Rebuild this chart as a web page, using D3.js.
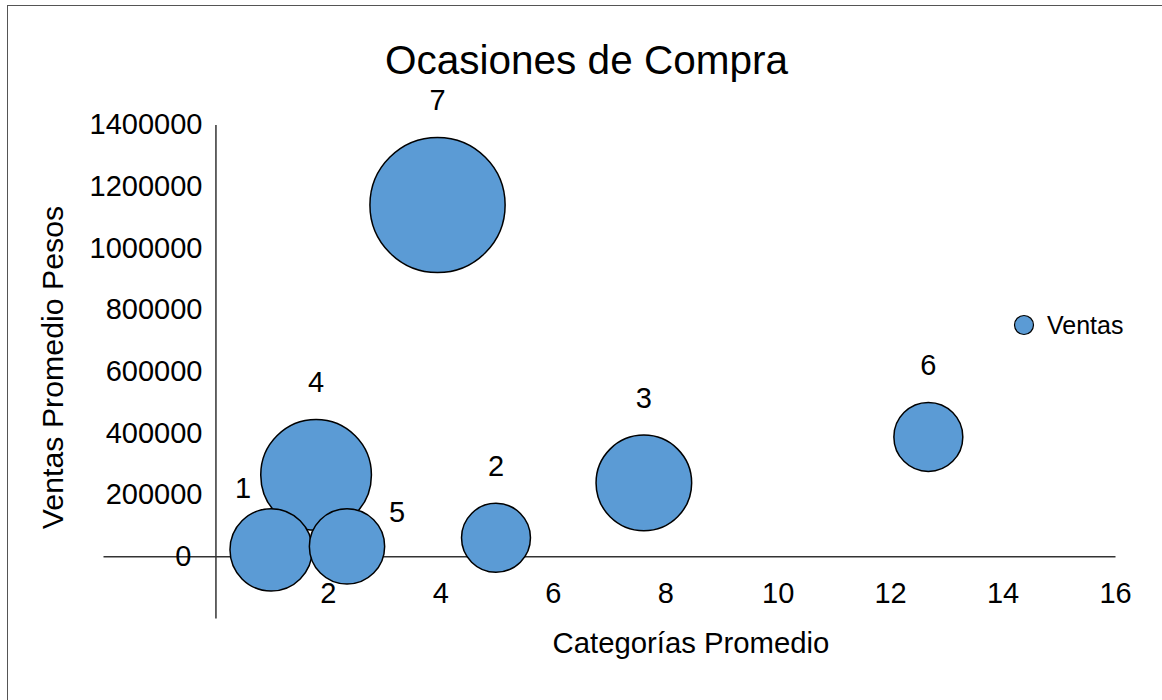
<!DOCTYPE html>
<html>
<head>
<meta charset="utf-8">
<script src="https://cdn.jsdelivr.net/npm/d3@7"></script>
<style>
  html, body { margin: 0; padding: 0; background: #fff; }
  svg { display: block; }
  text { font-family: "Liberation Sans", Arial, Helvetica, sans-serif; fill: #000; }
</style>
</head>
<body>
<svg id="chart" width="1162" height="700"></svg>
<script>
// Ocasiones de compra: categorías promedio vs. ventas promedio (pesos)
const occasions   = ["1", "4", "5", "2", "3", "6", "7"];
const avgCategory = [0.99, 1.79, 2.34, 4.99, 7.62, 12.68, 3.95];
const avgSales    = [21000, 264000, 32000, 60000, 238000, 387000, 1139000];
const bubbleSize  = [37, 67, 31, 26, 50, 26, 100];

const xTicks = [2, 4, 6, 8, 10, 12, 14, 16];
const yTicks = [0, 200000, 400000, 600000, 800000, 1000000, 1200000, 1400000];

const seriesName = "Ventas";
const chartTitle = "Ocasiones de Compra";
const xTitle = "Categorías Promedio";
const yTitle = "Ventas Promedio Pesos";

const data = occasions.map((name, i) => ({
  name, x: avgCategory[i], y: avgSales[i], size: bubbleSize[i]
}));

// hand-placed labels for the crowded cluster near the origin
const labelNudge = { "1": [-28, 17], "5": [50, 41] };

const svg = d3.select("#chart");
const blue = "#5b9bd5";

// outer frame
svg.append("rect")
  .attr("x", 7.5).attr("y", 5.5)
  .attr("width", 1170).attr("height", 710)
  .attr("fill", "none").attr("stroke", "#555").attr("stroke-width", 1);

const x = d3.scaleLinear().domain([-2, 16]).range([103, 1115]);
const y = d3.scaleLinear().domain([-200000, 1400000]).range([618, 124.5]);
const r = d3.scaleSqrt().domain([0, 100]).range([0, 67.6]);

const fmt = d3.format("d");

// x axis crosses at y = 0
const gx = svg.append("g")
  .attr("transform", `translate(0,${y(0)})`)
  .call(d3.axisBottom(x).tickValues(xTicks).tickFormat(fmt)
    .tickSize(0).tickSizeOuter(0).tickPadding(26));

// y axis crosses at x = 0
const gy = svg.append("g")
  .attr("transform", `translate(${x(0)},0)`)
  .call(d3.axisLeft(y).tickValues(yTicks).tickFormat(fmt)
    .tickSize(0).tickSizeOuter(0).tickPadding(13));

[gx, gy].forEach(g => {
  g.select(".domain").attr("stroke", "#333").attr("stroke-width", 1.5);
  g.selectAll(".tick text")
    .attr("font-size", 29)
    .attr("font-family", "'Liberation Sans', Arial, Helvetica, sans-serif")
    .attr("fill", "#000");
});
gy.selectAll(".tick text").filter(d => d === 0).attr("dx", -11);

// bubbles, largest drawn first
const sorted = data.slice().sort((a, b) => b.size - a.size);
svg.append("g").selectAll("circle")
  .data(sorted)
  .join("circle")
  .attr("cx", d => x(d.x))
  .attr("cy", d => y(d.y))
  .attr("r", d => r(d.size))
  .attr("fill", blue)
  .attr("stroke", "#000")
  .attr("stroke-width", 1.5);

// data labels above each bubble
svg.append("g").selectAll("text")
  .data(data)
  .join("text")
  .attr("text-anchor", "middle")
  .attr("font-size", 29)
  .attr("x", d => x(d.x) + (labelNudge[d.name] ? labelNudge[d.name][0] : 0))
  .attr("y", d => y(d.y) - r(d.size) - 37.5 + 10 + (labelNudge[d.name] ? labelNudge[d.name][1] : 0))
  .text(d => d.name);

// title
svg.append("text")
  .attr("x", 586.5).attr("y", 73.5)
  .attr("text-anchor", "middle")
  .attr("font-size", 40.5)
  .text(chartTitle);

// axis titles
svg.append("text")
  .attr("x", 691).attr("y", 653)
  .attr("text-anchor", "middle")
  .attr("font-size", 29.3)
  .text(xTitle);

svg.append("text")
  .attr("transform", "translate(63,367.5) rotate(-90)")
  .attr("text-anchor", "middle")
  .attr("font-size", 30.3)
  .text(yTitle);

// legend
const legend = svg.append("g").attr("transform", "translate(1024,325)");
legend.append("circle")
  .attr("r", 9.5)
  .attr("fill", blue).attr("stroke", "#000").attr("stroke-width", 1.2);
legend.append("text")
  .attr("x", 23).attr("y", 8.5)
  .attr("font-size", 25)
  .text(seriesName);
</script>
</body>
</html>
